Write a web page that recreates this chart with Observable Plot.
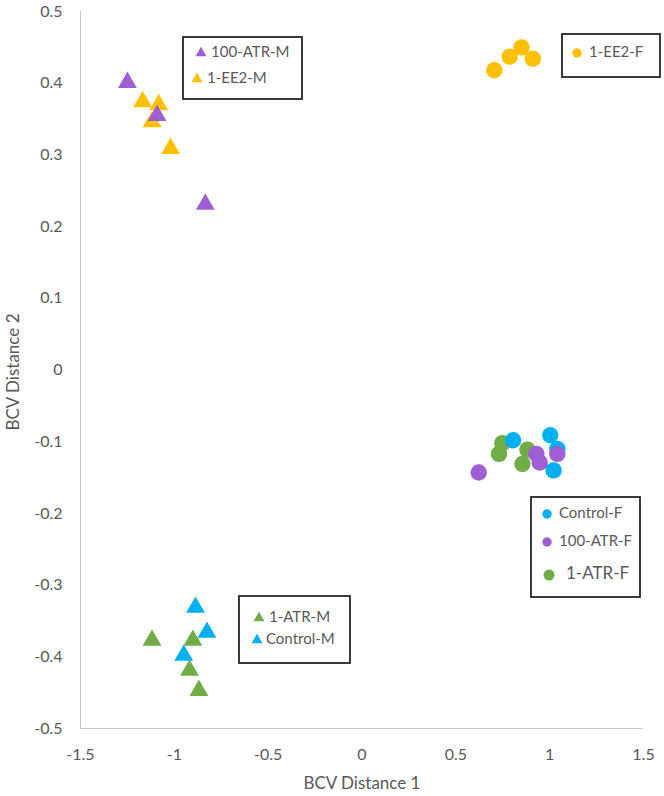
<!DOCTYPE html>
<html>
<head>
<meta charset="utf-8">
<script src="https://cdn.jsdelivr.net/npm/d3@7"></script>
<script src="https://cdn.jsdelivr.net/npm/@observablehq/plot@0.6"></script>
<style>
  html, body { margin: 0; padding: 0; background: #fff; }
  #chart svg { display: block; }
</style>
</head>
<body>
<div id="chart"></div>
<script>
// ---- data ----
const xTicks = [-1.5, -1, -0.5, 0, 0.5, 1, 1.5];
const yTicks = [-0.5, -0.4, -0.3, -0.2, -0.1, 0, 0.1, 0.2, 0.3, 0.4, 0.5];

const seriesNames = ["1-ATR-F", "Control-F", "100-ATR-F", "1-EE2-F", "1-EE2-M", "100-ATR-M", "1-ATR-M", "Control-M"];
const seriesShapes = ["circle", "circle", "circle", "circle", "triangle", "triangle", "triangle", "triangle"];
const seriesColors = ["#70ad47", "#00b0f0", "#9e5fd3", "#ffc000", "#ffc000", "#9e5fd3", "#70ad47", "#00b0f0"];

const atr1F_x = [0.748, 0.730, 0.881, 0.855];
const atr1F_y = [-0.102, -0.117, -0.111, -0.131];
const controlF_x = [0.805, 1.003, 1.041, 1.021];
const controlF_y = [-0.098, -0.091, -0.110, -0.140];
const atr100F_x = [0.622, 0.929, 0.947, 1.041];
const atr100F_y = [-0.143, -0.117, -0.129, -0.117];
const ee2F_x = [0.705, 0.787, 0.850, 0.910];
const ee2F_y = [0.418, 0.437, 0.450, 0.434];
const ee2M_x = [-1.169, -1.083, -1.119, -1.020];
const ee2M_y = [0.374, 0.370, 0.346, 0.309];
const atr100M_x = [-1.250, -1.092, -0.835];
const atr100M_y = [0.401, 0.355, 0.231];
const atr1M_x = [-1.119, -0.901, -0.919, -0.869];
const atr1M_y = [-0.377, -0.377, -0.419, -0.447];
const controlM_x = [-0.887, -0.826, -0.950];
const controlM_y = [-0.331, -0.366, -0.398];

const seriesX = [atr1F_x, controlF_x, atr100F_x, ee2F_x, ee2M_x, atr100M_x, atr1M_x, controlM_x];
const seriesY = [atr1F_y, controlF_y, atr100F_y, ee2F_y, ee2M_y, atr100M_y, atr1M_y, controlM_y];

const points = [];
seriesNames.forEach((name, i) => {
  seriesX[i].forEach((x, j) => points.push({series: name, shape: seriesShapes[i], x, y: seriesY[i][j], order: i}));
});

const textColor = "#595959";
const font = "Lato, 'Open Sans', sans-serif";

const marks = [
  Plot.ruleX([-1.5], {stroke: "#c8c8c8", strokeWidth: 1}),
  Plot.ruleY([-0.5], {stroke: "#c8c8c8", strokeWidth: 1}),
  Plot.axisX({ticks: xTicks, tickFormat: d => String(d), tickSize: 0, tickPadding: 20, label: null, fontSize: 16, color: textColor}),
  Plot.axisY({ticks: yTicks, tickFormat: d => String(d), tickSize: 0, tickPadding: 18, label: null, fontSize: 16, color: textColor}),
];
// draw order: green, blue, purple in the female cluster (purple on top)
seriesNames.forEach((name, i) => {
  const pts = points.filter(p => p.series === name);
  const isTri = seriesShapes[i] === "triangle";
  marks.push(Plot.dot(pts, {
    x: "x", y: "y",
    symbol: isTri ? "triangle" : "circle",
    r: isTri ? 7 : 8.2,
    fill: seriesColors[i], stroke: "none"
  }));
});
const chart = Plot.plot({
  width: 664,
  height: 796,
  marginLeft: 80,
  marginRight: 21,
  marginTop: 11,
  marginBottom: 68,
  style: {fontFamily: font, fontSize: "16px", color: textColor, background: "#fff"},
  x: {domain: [-1.5, 1.5]},
  y: {domain: [-0.5, 0.5]},
  marks
});
document.getElementById("chart").appendChild(chart);

// ---- axis titles and legend boxes ----
const svg = d3.select(chart);
svg.append("text").attr("x", 362).attr("y", 785).attr("text-anchor", "middle").attr("dominant-baseline", "middle")
  .attr("fill", textColor).style("font-family", font).style("font-size", "17px").text("BCV Distance 1");
svg.append("text").attr("transform", "translate(15,372) rotate(-90)").attr("text-anchor", "middle").attr("dominant-baseline", "middle")
  .attr("fill", textColor).style("font-family", font).style("font-size", "17px").text("BCV Distance 2");

const legends = [
  {box: [183, 37, 119, 62], items: [
    {s: 5, dx: 201, dy: 53, tx: 211, fs: 15},
    {s: 4, dx: 197, dy: 79, tx: 207, fs: 15}]},
  {box: [562, 34, 98, 43], items: [
    {s: 3, dx: 577, dy: 53, tx: 589, fs: 15}]},
  {box: [531, 497, 109, 100], items: [
    {s: 1, dx: 547, dy: 514, tx: 559, fs: 15},
    {s: 2, dx: 547, dy: 542, tx: 559, fs: 15},
    {s: 0, dx: 549, dy: 575, tx: 566, fs: 17, big: true}]},
  {box: [239, 596, 111, 67], items: [
    {s: 6, dx: 259, dy: 618, tx: 269, fs: 15},
    {s: 7, dx: 257, dy: 640, tx: 266, fs: 15}]}
];
legends.forEach(lg => {
  const g = svg.append("g").attr("text-anchor", "start");
  g.append("rect").attr("x", lg.box[0]).attr("y", lg.box[1]).attr("width", lg.box[2]).attr("height", lg.box[3])
    .attr("fill", "#fff").attr("stroke", "#262626").attr("stroke-width", 1.8);
  lg.items.forEach(it => {
    const tri = seriesShapes[it.s] === "triangle";
    const size = tri ? 52 : (it.big ? 95 : 70);
    g.append("path").attr("d", d3.symbol(tri ? d3.symbolTriangle : d3.symbolCircle, size)())
      .attr("transform", `translate(${it.dx},${it.dy})`).attr("fill", seriesColors[it.s]);
    g.append("text").attr("x", it.tx).attr("y", it.dy).attr("text-anchor", "start").attr("dominant-baseline", "middle")
      .attr("fill", textColor).style("font-family", font).style("font-size", it.fs + "px").text(seriesNames[it.s]);
  });
});
</script>
</body>
</html>
